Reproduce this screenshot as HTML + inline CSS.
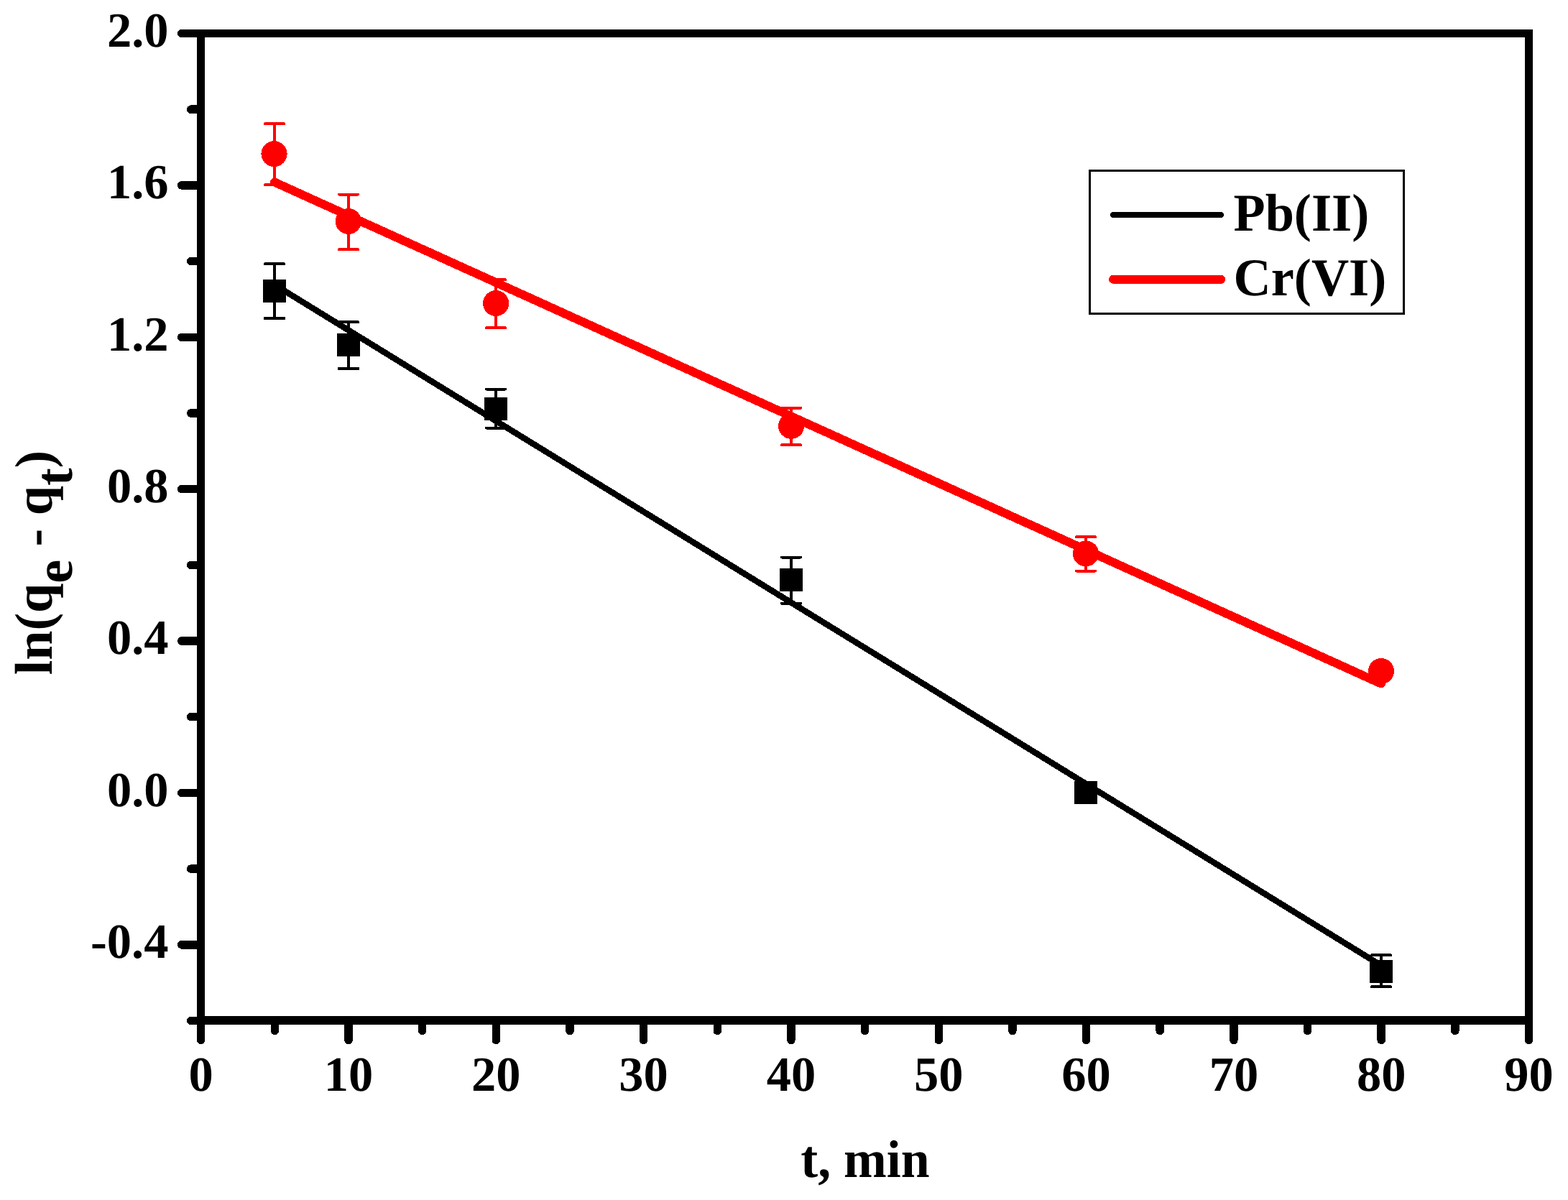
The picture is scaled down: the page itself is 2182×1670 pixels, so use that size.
<!DOCTYPE html>
<html lang="en"><head><meta charset="utf-8"><title>ln(qe - qt) vs t, min</title>
<style>
html,body{margin:0;padding:0;background:#fff;}
body{width:2182px;height:1670px;overflow:hidden;}
svg{display:block;}
text{font-family:"Liberation Serif",serif;font-weight:bold;fill:#000;}
</style></head><body>
<svg width="2182" height="1670" viewBox="0 0 2182 1670" shape-rendering="crispEdges" text-rendering="geometricPrecision">
<rect x="0" y="0" width="2182" height="1670" fill="#fff"/>
<g fill="none" stroke-linecap="round">
<line x1="382.0" y1="253.5" x2="1922.0" y2="951.5" stroke="#ff0000" stroke-width="12"/>
<line x1="382.0" y1="396.2" x2="1922.0" y2="1343.6" stroke="#000" stroke-width="8.5"/>
</g>
<g>
<path d="M382.0 172.1V257.4M368.8 172.1H395.2M368.8 257.4H395.2" stroke="#ff0000" stroke-width="4" fill="none" stroke-linecap="round"/>
<ellipse cx="381.5" cy="214.1" rx="18.1" ry="18.0" fill="#ff0000"/>
<path d="M485.0 270.5V347.2M471.8 270.5H498.2M471.8 347.2H498.2" stroke="#ff0000" stroke-width="4" fill="none" stroke-linecap="round"/>
<ellipse cx="484.8" cy="308.0" rx="18.1" ry="18.0" fill="#ff0000"/>
<path d="M690.0 389.4V456.4M676.8 389.4H703.2M676.8 456.4H703.2" stroke="#ff0000" stroke-width="4" fill="none" stroke-linecap="round"/>
<ellipse cx="690.1" cy="422.1" rx="18.1" ry="18.0" fill="#ff0000"/>
<path d="M1101.0 567.7V619.4M1087.8 567.7H1114.2M1087.8 619.4H1114.2" stroke="#ff0000" stroke-width="4" fill="none" stroke-linecap="round"/>
<ellipse cx="1101.1" cy="592.8" rx="18.1" ry="18.0" fill="#ff0000"/>
<path d="M1511.0 747.4V794.5M1497.8 747.4H1524.2M1497.8 794.5H1524.2" stroke="#ff0000" stroke-width="4" fill="none" stroke-linecap="round"/>
<ellipse cx="1511.0" cy="770.4" rx="18.1" ry="18.0" fill="#ff0000"/>
<path d="M1922.0 934.0V934.0M1908.8 934.0H1935.2M1908.8 934.0H1935.2" stroke="#ff0000" stroke-width="4" fill="none" stroke-linecap="round"/>
<ellipse cx="1922.0" cy="934.0" rx="18.1" ry="18.0" fill="#ff0000"/>
<path d="M382.0 367.3V443.0M368.8 367.3H395.2M368.8 443.0H395.2" stroke="#000" stroke-width="4" fill="none" stroke-linecap="round"/>
<rect x="366.0" y="388.9" width="32.0" height="32.0" fill="#000"/>
<path d="M485.0 448.4V513.0M471.8 448.4H498.2M471.8 513.0H498.2" stroke="#000" stroke-width="4" fill="none" stroke-linecap="round"/>
<rect x="469.0" y="463.9" width="32.0" height="32.0" fill="#000"/>
<path d="M690.0 541.6V595.5M676.8 541.6H703.2M676.8 595.5H703.2" stroke="#000" stroke-width="4" fill="none" stroke-linecap="round"/>
<rect x="674.0" y="553.1" width="32.0" height="32.0" fill="#000"/>
<path d="M1101.0 775.6V839.8M1087.8 775.6H1114.2M1087.8 839.8H1114.2" stroke="#000" stroke-width="4" fill="none" stroke-linecap="round"/>
<rect x="1085.0" y="791.0" width="32.0" height="32.0" fill="#000"/>
<path d="M1511.0 1102.9V1102.9M1497.8 1102.9H1524.2M1497.8 1102.9H1524.2" stroke="#000" stroke-width="4" fill="none" stroke-linecap="round"/>
<rect x="1495.0" y="1086.9" width="32.0" height="32.0" fill="#000"/>
<path d="M1922.0 1329.4V1373.4M1908.8 1329.4H1935.2M1908.8 1373.4H1935.2" stroke="#000" stroke-width="4" fill="none" stroke-linecap="round"/>
<rect x="1905.5" y="1335.9" width="32.0" height="32.0" fill="#000"/>
</g>
<g stroke="#000" fill="none" stroke-linecap="butt">
<line x1="274.2" y1="46.5" x2="2133.0" y2="46.5" stroke-width="11"/>
<line x1="274.2" y1="1420.0" x2="2133.0" y2="1420.0" stroke-width="12"/>
<line x1="279.5" y1="41.0" x2="279.5" y2="1426.0" stroke-width="11"/>
<line x1="2127.5" y1="41.0" x2="2127.5" y2="1426.0" stroke-width="11"/>
</g>
<g stroke="#000" stroke-width="11.5" fill="none" stroke-linecap="round">
<line x1="279.7" y1="46.5" x2="252.7" y2="46.5"/>
<line x1="279.7" y1="152.2" x2="265.7" y2="152.2"/>
<line x1="279.7" y1="257.9" x2="252.7" y2="257.9"/>
<line x1="279.7" y1="363.6" x2="265.7" y2="363.6"/>
<line x1="279.7" y1="469.3" x2="252.7" y2="469.3"/>
<line x1="279.7" y1="575.0" x2="265.7" y2="575.0"/>
<line x1="279.7" y1="680.7" x2="252.7" y2="680.7"/>
<line x1="279.7" y1="786.3" x2="265.7" y2="786.3"/>
<line x1="279.7" y1="892.0" x2="252.7" y2="892.0"/>
<line x1="279.7" y1="997.7" x2="265.7" y2="997.7"/>
<line x1="279.7" y1="1103.4" x2="252.7" y2="1103.4"/>
<line x1="279.7" y1="1209.1" x2="265.7" y2="1209.1"/>
<line x1="279.7" y1="1314.8" x2="252.7" y2="1314.8"/>
<line x1="279.7" y1="1420.5" x2="265.7" y2="1420.5"/>
<line x1="279.7" y1="1420.5" x2="279.7" y2="1447.5"/>
<line x1="382.4" y1="1420.5" x2="382.4" y2="1434.5"/>
<line x1="485.0" y1="1420.5" x2="485.0" y2="1447.5"/>
<line x1="587.7" y1="1420.5" x2="587.7" y2="1434.5"/>
<line x1="690.3" y1="1420.5" x2="690.3" y2="1447.5"/>
<line x1="793.0" y1="1420.5" x2="793.0" y2="1434.5"/>
<line x1="895.6" y1="1420.5" x2="895.6" y2="1447.5"/>
<line x1="998.3" y1="1420.5" x2="998.3" y2="1434.5"/>
<line x1="1100.9" y1="1420.5" x2="1100.9" y2="1447.5"/>
<line x1="1203.6" y1="1420.5" x2="1203.6" y2="1434.5"/>
<line x1="1306.3" y1="1420.5" x2="1306.3" y2="1447.5"/>
<line x1="1408.9" y1="1420.5" x2="1408.9" y2="1434.5"/>
<line x1="1511.6" y1="1420.5" x2="1511.6" y2="1447.5"/>
<line x1="1614.2" y1="1420.5" x2="1614.2" y2="1434.5"/>
<line x1="1716.9" y1="1420.5" x2="1716.9" y2="1447.5"/>
<line x1="1819.5" y1="1420.5" x2="1819.5" y2="1434.5"/>
<line x1="1922.2" y1="1420.5" x2="1922.2" y2="1447.5"/>
<line x1="2024.8" y1="1420.5" x2="2024.8" y2="1434.5"/>
<line x1="2127.5" y1="1420.5" x2="2127.5" y2="1447.5"/>
</g>
<g font-size="68.5" text-anchor="end">
<text x="234.5" y="64.8">2.0</text>
<text x="234.5" y="276.2">1.6</text>
<text x="234.5" y="487.6">1.2</text>
<text x="234.5" y="699.0">0.8</text>
<text x="234.5" y="910.3">0.4</text>
<text x="234.5" y="1121.7">0.0</text>
<text x="234.5" y="1333.1">-0.4</text>
</g>
<g font-size="68.5" text-anchor="middle">
<text x="279.7" y="1518.0">0</text>
<text x="485.0" y="1518.0">10</text>
<text x="690.3" y="1518.0">20</text>
<text x="895.6" y="1518.0">30</text>
<text x="1100.9" y="1518.0">40</text>
<text x="1306.3" y="1518.0">50</text>
<text x="1511.6" y="1518.0">60</text>
<text x="1716.9" y="1518.0">70</text>
<text x="1922.2" y="1518.0">80</text>
<text x="2127.5" y="1518.0">90</text>
</g>
<text transform="translate(1204.0 1638.0) scale(0.969 1)" font-size="74" text-anchor="middle">t, min</text>
<text transform="translate(72.0 783.0) rotate(-90)" font-size="74" text-anchor="middle">ln(q<tspan dy="28">e</tspan><tspan dy="-28"> - q</tspan><tspan dy="28">t</tspan><tspan dy="-28">)</tspan></text>
<rect x="1516.8" y="237.5" width="436.6" height="198.6" fill="#fff" stroke="#000" stroke-width="3"/>
<line x1="1549.2" y1="298.8" x2="1698.8" y2="298.8" stroke="#000" stroke-width="8.5" stroke-linecap="round"/>
<line x1="1549.1" y1="388.8" x2="1699.1" y2="388.8" stroke="#ff0000" stroke-width="12" stroke-linecap="round"/>
<text transform="translate(1716.5 321.0) scale(0.977 1)" font-size="74">Pb(II)</text>
<text transform="translate(1716.5 411.0) scale(0.977 1)" font-size="74">Cr(VI)</text>
</svg>
</body></html>
